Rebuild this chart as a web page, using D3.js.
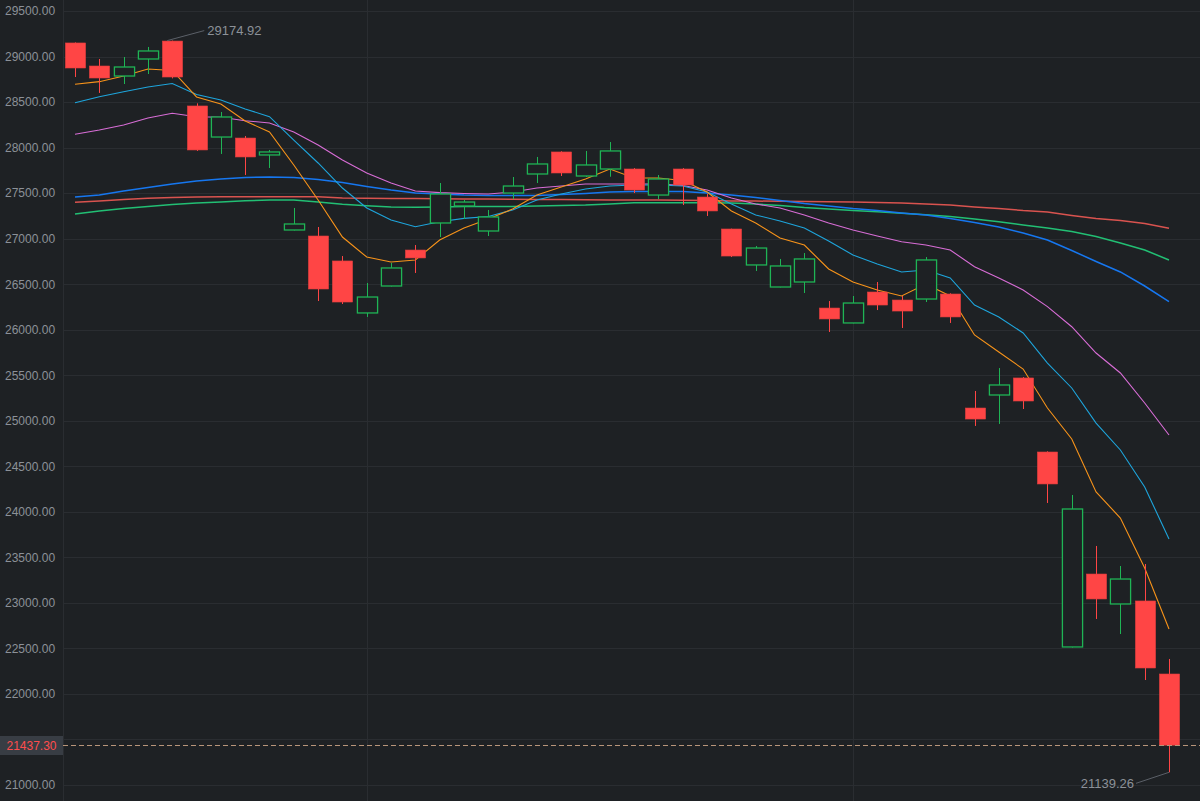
<!DOCTYPE html>
<html><head><meta charset="utf-8">
<script src="https://cdn.jsdelivr.net/npm/d3@7"></script>
<style>
html,body{margin:0;padding:0;background:#1e2124;overflow:hidden;}
svg{display:block;font-family:"Liberation Sans",Arial,sans-serif;}
</style></head>
<body><svg id="chart" width="1200" height="801"></svg>
<script>
const categories = d3.range(1, 47).map(String);
const open  = [29149,28896,28786,28973,29170,28457,28116,28105,27919,27095,27029,26755,26184,26480,26875,27172,27359,27084,27501,27710,27952,27688,27765,27765,27479,27765,27457,27106,26711,26469,26524,26238,26074,26414,26326,26337,26392,25140,25283,25470,24657,22516,23317,22988,23021,22219];
const high  = [29155,28973,28995,29105,29174.92,28486,28391,28127,27974,27337,27128,26809,26513,26733,26930,27611,27424,27315,27677,27897,27960,27963,28061,27775,27699,27775,27490,27110,26919,26777,26842,26315,26370,26524,26370,26798,26400,25327,25579,25480,24665,24185,23625,23405,23427,22384];
const low   = [28775,28600,28698,28808,28760,27963,27930,27699,27776,27090,26315,26282,26140,26475,26623,27018,27216,27029,27435,27611,27688,27677,27680,27501,27435,27369,27249,26798,26645,26465,26403,25975,26070,26216,26019,26304,26074,24943,24965,25129,24097,22510,22823,22658,22153,21139.26];
const close = [28874,28764,28885,29061,28775,27974,28336,27897,27952,27161,26447,26304,26359,26678,26788,27490,27402,27238,27578,27820,27721,27809,27963,27534,27655,27589,27304,26809,26897,26700,26777,26118,26293,26271,26205,26766,26140,25019,25393,25217,24306,24031,23043,23262,22285,21437.30];

const ma5   = [28695,28724,28786,28863,28847,28556,28479,28292,28171,27809,27424,27018,26798,26744,26766,26985,27117,27216,27326,27479,27567,27655,27765,27666,27666,27639,27512,27304,27172,27007,26930,26667,26524,26436,26370,26502,26370,25942,25755,25568,25140,24800,24218,23932,23383,22713];
const ma10  = [28493,28559,28614,28665,28704,28583,28523,28424,28339,28083,27831,27556,27337,27205,27131,27186,27223,27243,27315,27424,27490,27545,27578,27589,27589,27578,27512,27380,27260,27194,27117,26974,26820,26722,26634,26656,26568,26271,26140,25964,25634,25360,24975,24679,24273,23701];
const ma20  = [28146,28193,28248,28325,28377,28339,28333,28295,28270,28171,28028,27864,27721,27611,27523,27505,27496,27490,27512,27556,27578,27600,27600,27600,27600,27584,27534,27446,27380,27337,27260,27172,27095,27029,26966,26930,26875,26692,26568,26436,26253,26033,25744,25525,25195,24844];
const ma60  = [27457,27479,27523,27562,27600,27633,27655,27672,27677,27672,27650,27617,27573,27534,27501,27490,27479,27474,27474,27474,27485,27496,27512,27518,27518,27518,27501,27479,27452,27419,27386,27359,27331,27309,27282,27260,27221,27177,27128,27062,26985,26870,26749,26634,26480,26308];
const ma120 = [27399,27413,27430,27443,27452,27457,27461,27461,27461,27461,27461,27446,27443,27441,27441,27439,27435,27435,27432,27430,27430,27428,27424,27424,27424,27421,27419,27413,27413,27410,27408,27406,27402,27397,27391,27380,27369,27348,27331,27309,27293,27254,27221,27199,27166,27114];
const ma250 = [27271,27304,27331,27353,27375,27391,27402,27416,27424,27424,27402,27377,27361,27348,27344,27348,27353,27353,27353,27359,27364,27369,27380,27395,27395,27395,27394,27391,27380,27364,27342,27326,27309,27296,27278,27263,27243,27216,27186,27150,27117,27078,27024,26952,26875,26766];

const yTicks = d3.range(21000, 29501, 500);
const xGridCategories = ["13", "33"];
const lastPrice = 21437.30;

const W = 1200, H = 801, axisX = 63;
const COL = {
  bg: "#1e2124", grid: "#2a2d31", axisText: "#8c9198",
  up: "#1fb455", down: "#ff4545",
  ma5: "#f7931a", ma10: "#1ea5dc", ma20: "#d86dd6",
  ma60: "#1677f0", ma120: "#d9534f", ma250: "#22bf74"
};

const svg = d3.select("#chart");
svg.append("rect").attr("width", W).attr("height", H).attr("fill", COL.bg);

const x = d3.scalePoint().domain(categories).range([75, 1169]);
const y = d3.scaleLinear().domain([21000, 29500]).range([785, 11]);
const bodyW = x.step() * 0.83;

// grid
const g = svg.append("g");
g.selectAll("line.h").data(yTicks).join("line")
  .attr("x1", axisX).attr("x2", W)
  .attr("y1", d => Math.round(y(d)) + 0.5).attr("y2", d => Math.round(y(d)) + 0.5)
  .attr("stroke", COL.grid).attr("stroke-width", 1);
g.selectAll("line.v").data(xGridCategories).join("line")
  .attr("x1", d => Math.round(x(d)) + 0.5).attr("x2", d => Math.round(x(d)) + 0.5)
  .attr("y1", 0).attr("y2", H)
  .attr("stroke", COL.grid).attr("stroke-width", 1);
svg.append("line").attr("x1", axisX + 0.5).attr("x2", axisX + 0.5).attr("y1", 0).attr("y2", H)
  .attr("stroke", COL.grid).attr("stroke-width", 1);

// y axis labels (labels hidden behind the last-price tag are dropped)
const ly = Math.round(y(lastPrice)) + 0.5;
const shownTicks = yTicks.filter(d => Math.abs(y(d) - ly) > 13);
const yAxis = d3.axisLeft(y).tickValues(shownTicks).tickFormat(d3.format(".2f")).tickSize(0).tickPadding(0);
const ax = svg.append("g").attr("transform", "translate(5,0)").call(yAxis);
ax.select(".domain").remove();
ax.selectAll("text").attr("text-anchor", "start").attr("x", 0)
  .attr("fill", COL.axisText).style("font-size", "12px")
  .style("font-family", '"Liberation Sans", Arial, sans-serif');

// moving averages
const maList = [["ma250", ma250, 1.5], ["ma120", ma120, 1.5], ["ma60", ma60, 1.5], ["ma20", ma20, 1.1], ["ma10", ma10, 1.1], ["ma5", ma5, 1.1]];
const line = d3.line().x((d, i) => x(categories[i])).y(d => y(d));
maList.forEach(([name, vals, w]) => {
  svg.append("path").datum(vals).attr("d", line)
    .attr("fill", "none").attr("stroke", COL[name]).attr("stroke-width", w);
});

// candles
const candles = categories.map((c, i) => ({ c, o: open[i], h: high[i], l: low[i], cl: close[i], up: close[i] >= open[i] }));
const cg = svg.append("g");
candles.forEach(d => {
  const cx = Math.round(x(d.c)) + 0.5;
  const color = d.up ? COL.up : COL.down;
  const top = y(Math.max(d.o, d.cl)), bot = y(Math.min(d.o, d.cl));
  if (d.up) {
    cg.append("line").attr("x1", cx).attr("x2", cx).attr("y1", y(d.h)).attr("y2", top).attr("stroke", color).attr("stroke-width", 1);
    cg.append("line").attr("x1", cx).attr("x2", cx).attr("y1", bot).attr("y2", y(d.l)).attr("stroke", color).attr("stroke-width", 1);
    cg.append("rect").attr("x", cx - bodyW / 2).attr("y", top).attr("width", bodyW).attr("height", Math.max(1, bot - top))
      .attr("fill", COL.bg).attr("stroke", color).attr("stroke-width", 1.3);
  } else {
    cg.append("line").attr("x1", cx).attr("x2", cx).attr("y1", y(d.h)).attr("y2", y(d.l)).attr("stroke", color).attr("stroke-width", 1);
    cg.append("rect").attr("x", cx - bodyW / 2).attr("y", top).attr("width", bodyW).attr("height", Math.max(1, bot - top))
      .attr("fill", color).attr("stroke", "#e03e3e").attr("stroke-width", 0.6);
  }
});

// max / min markers
const iMax = d3.maxIndex(high), iMin = d3.minIndex(low);
const mx = x(categories[iMax]), my = y(high[iMax]);
svg.append("line").attr("x1", mx - 5).attr("y1", my).attr("x2", mx + 32).attr("y2", my - 10)
  .attr("stroke", "#5b6068").attr("stroke-width", 1);
svg.append("text").attr("x", mx + 35).attr("y", my - 10).attr("dy", "0.35em")
  .attr("fill", COL.axisText).style("font-size", "13px").text(d3.format(".2f")(high[iMax]));
const nx = x(categories[iMin]), ny = y(low[iMin]);
svg.append("line").attr("x1", nx).attr("y1", ny).attr("x2", nx - 33).attr("y2", ny + 11)
  .attr("stroke", "#5b6068").attr("stroke-width", 1);
svg.append("text").attr("x", nx - 35).attr("y", ny + 11).attr("dy", "0.35em").attr("text-anchor", "end")
  .attr("fill", COL.axisText).style("font-size", "13px").text(d3.format(".2f")(low[iMin]));

// last price line
svg.append("line").attr("x1", axisX).attr("x2", W).attr("y1", ly).attr("y2", ly)
  .attr("stroke", "#b8957a").attr("stroke-width", 1).attr("stroke-dasharray", "5,3");
svg.append("rect").attr("x", 0).attr("y", ly - 9.5).attr("width", axisX).attr("height", 19).attr("fill", "#383d44");
svg.append("text").attr("x", axisX / 2).attr("y", ly).attr("dy", "0.35em").attr("text-anchor", "middle")
  .attr("fill", "#ff4d4d").style("font-size", "12px").text(d3.format(".2f")(lastPrice));
</script></body></html>
